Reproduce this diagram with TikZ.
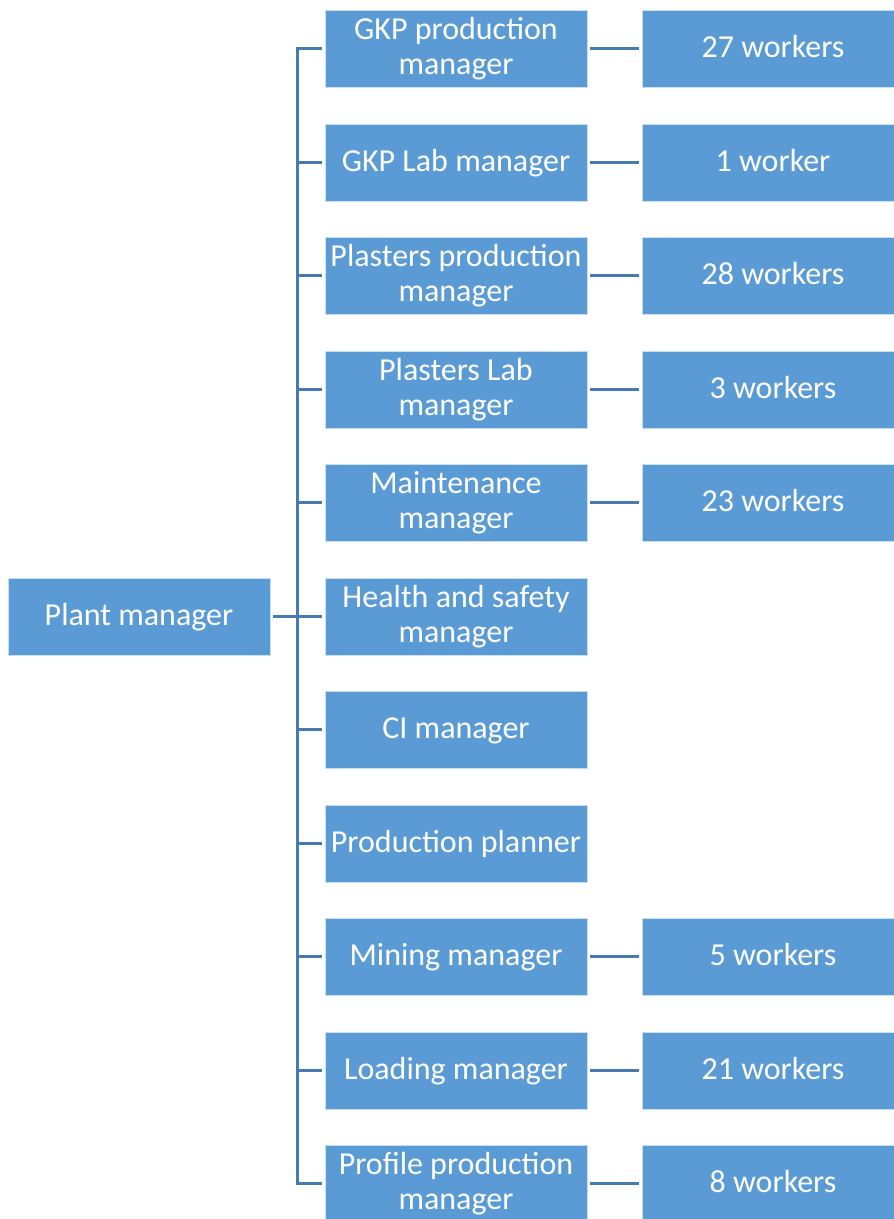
\documentclass[tikz,border=0pt]{standalone}
\usepackage{fontspec}
\setmainfont{Carlito}
\definecolor{boxfill}{RGB}{91,155,213}
\definecolor{boxedge}{RGB}{200,222,242}
\definecolor{linkcol}{RGB}{72,122,178}
% uniform line height so every box centres its text the same way
\newcommand{\lstrut}{\rule[-8pt]{0pt}{33.5pt}}
\newcommand{\oneline}[1]{\lstrut#1}
\newcommand{\twolines}[2]{\lstrut#1\\\lstrut#2}
\begin{document}
\begin{tikzpicture}[x=1pt,y=-1pt,
  orgbox/.style={rectangle, fill=boxfill, draw=boxedge, line width=0.8pt,
    minimum width=262pt, minimum height=77pt, inner sep=0pt,
    align=center, text=white, font=\fontsize{32}{35}\selectfont},
  conn/.style={draw=linkcol, line width=3pt, shorten <=3pt, shorten >=3pt}]
\useasboundingbox (0,0) rectangle (894,1219);
\clip (0,0) rectangle (894,1219);

% head of the plant
\node[orgbox] (plant) at (139,616.5) {\oneline{Plant manager}};

% managers reporting to the plant manager
\node[orgbox] (m1)  at (456,48.5)   {\twolines{GKP production}{manager}};
\node[orgbox] (m2)  at (456,162.5)  {\oneline{GKP Lab manager}};
\node[orgbox] (m3)  at (456,275.5)  {\twolines{Plasters production}{manager}};
\node[orgbox] (m4)  at (456,389.5)  {\twolines{Plasters Lab}{manager}};
\node[orgbox] (m5)  at (456,502.5)  {\twolines{Maintenance}{manager}};
\node[orgbox] (m6)  at (456,616.5)  {\twolines{Health and safety}{manager}};
\node[orgbox] (m7)  at (456,729.5)  {\oneline{CI manager}};
\node[orgbox] (m8)  at (456,843.5)  {\oneline{Production planner}};
\node[orgbox] (m9)  at (456,956.5)  {\oneline{Mining manager}};
\node[orgbox] (m10) at (456,1070.5) {\oneline{Loading manager}};
\node[orgbox] (m11) at (456,1183.5) {\twolines{Profile production}{manager}};

% staff under each manager
\node[orgbox] (w1)  at (773,48.5)   {\oneline{27 workers}};
\node[orgbox] (w2)  at (773,162.5)  {\oneline{1 worker}};
\node[orgbox] (w3)  at (773,275.5)  {\oneline{28 workers}};
\node[orgbox] (w4)  at (773,389.5)  {\oneline{3 workers}};
\node[orgbox] (w5)  at (773,502.5)  {\oneline{23 workers}};
\node[orgbox] (w9)  at (773,956.5)  {\oneline{5 workers}};
\node[orgbox] (w10) at (773,1070.5) {\oneline{21 workers}};
\node[orgbox] (w11) at (773,1183.5) {\oneline{8 workers}};

% tree from the plant manager to every manager
\foreach \m in {m1,m2,m3,m4,m5,m6,m7,m8,m9,m10,m11}
  \draw[conn] (plant.east) -- ++(27.5,0) |- (\m.west);

% manager to staff links
\foreach \m/\w in {m1/w1,m2/w2,m3/w3,m4/w4,m5/w5,m9/w9,m10/w10,m11/w11}
  \draw[conn] (\m.east) -- (\w.west);
\end{tikzpicture}
\end{document}
